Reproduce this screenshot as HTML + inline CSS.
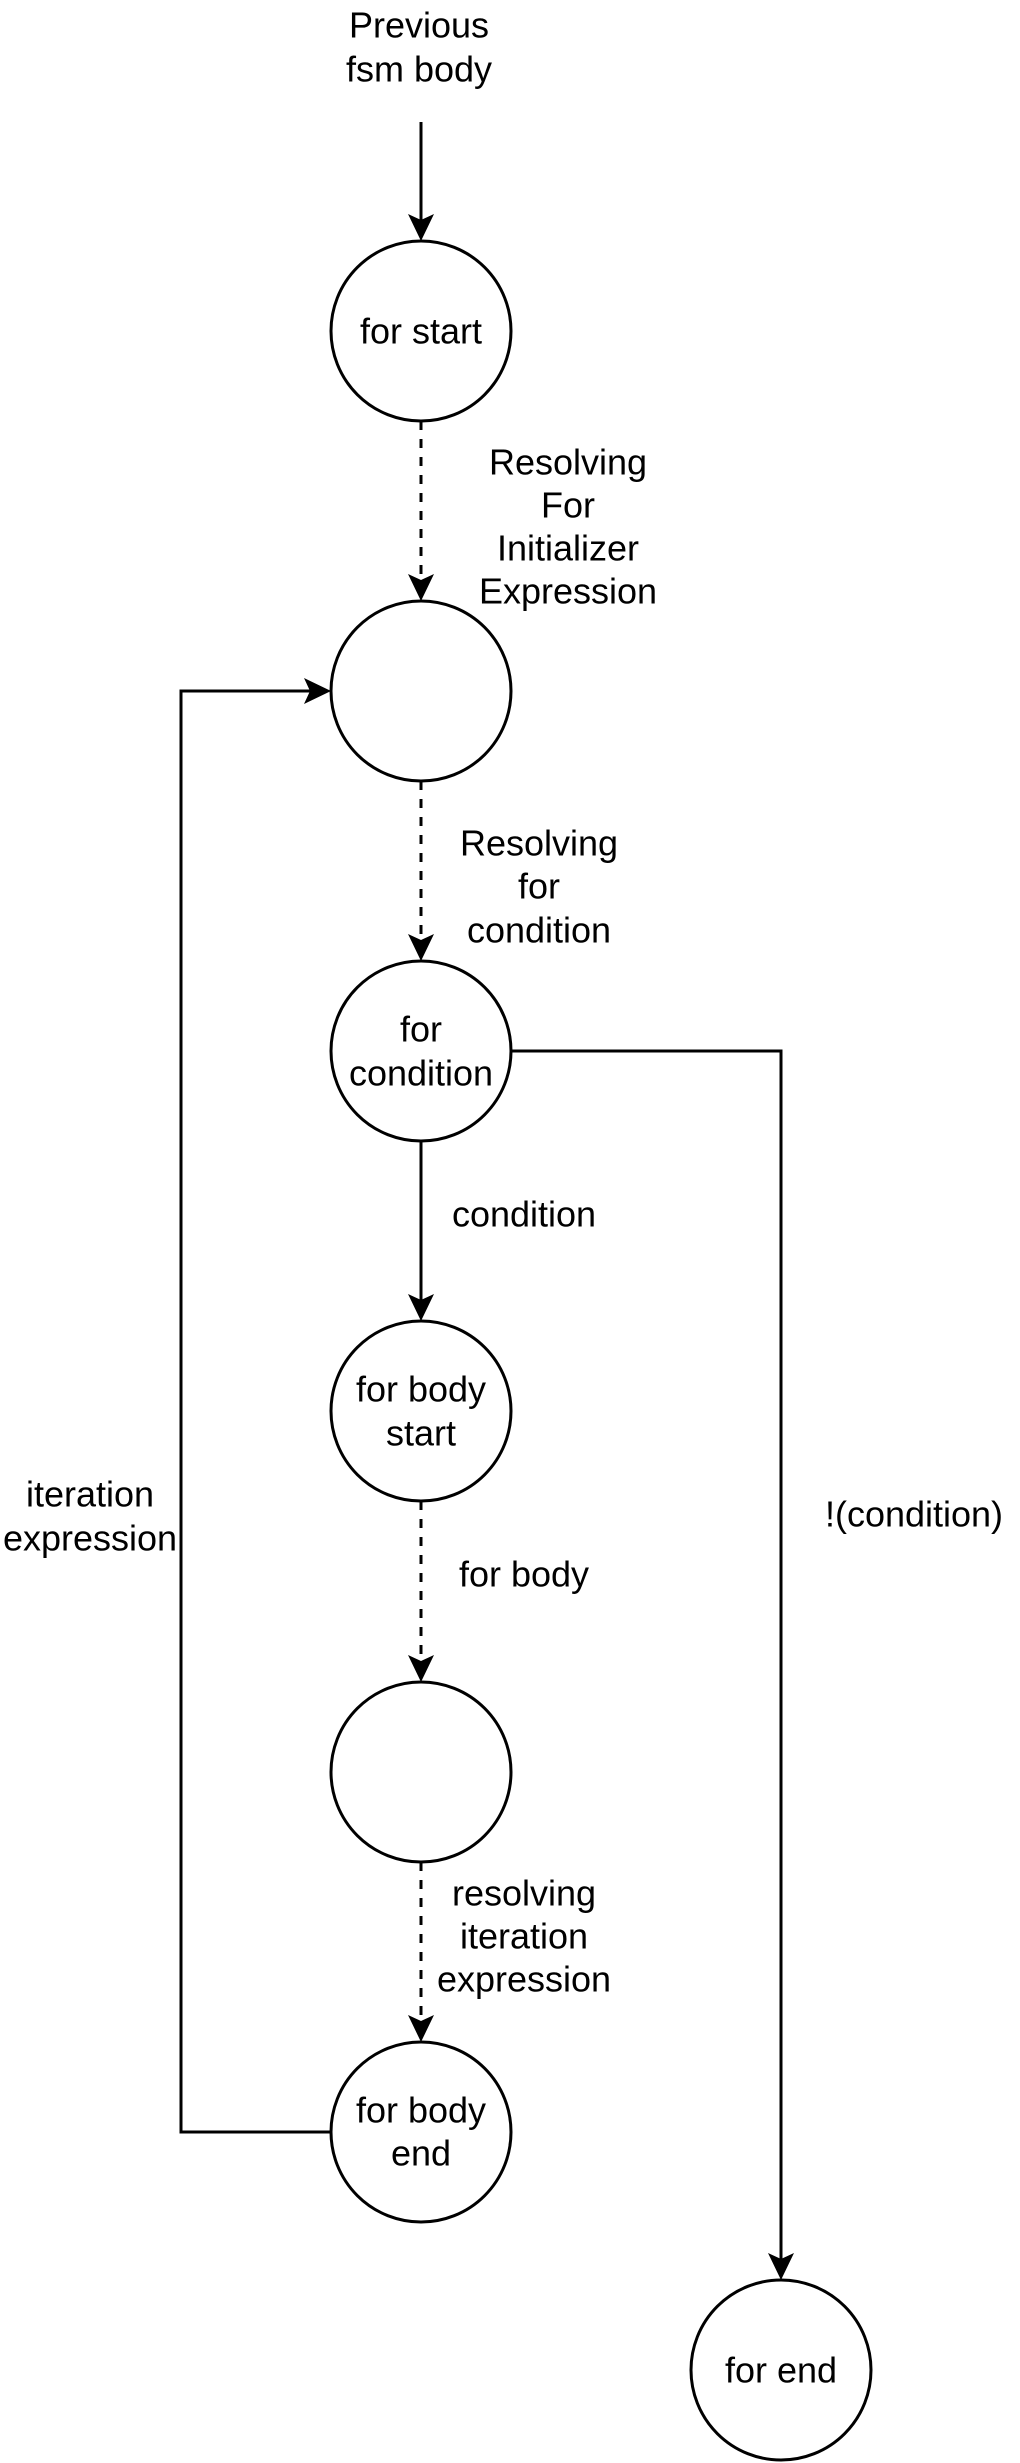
<!DOCTYPE html>
<html><head><meta charset="utf-8"><style>
html,body{margin:0;padding:0;background:#fff;}
svg{display:block;}
text{font-family:"Liberation Sans",Arial,sans-serif;font-size:36px;fill:#000;text-anchor:middle;dominant-baseline:central;}
</style></head><body>
<svg width="1020" height="2463" viewBox="0 0 1020 2463" xmlns="http://www.w3.org/2000/svg">
<g fill="none" stroke="#000" stroke-width="3">
<circle cx="421" cy="331" r="90"/>
<circle cx="421" cy="691" r="90"/>
<circle cx="421" cy="1051" r="90"/>
<circle cx="421" cy="1411" r="90"/>
<circle cx="421" cy="1772" r="90"/>
<circle cx="421" cy="2132" r="90"/>
<circle cx="781" cy="2370" r="90"/>
<line x1="421" y1="122" x2="421" y2="222"/>
<line x1="421" y1="421" x2="421" y2="582" stroke-dasharray="9 9"/>
<line x1="421" y1="781" x2="421" y2="942" stroke-dasharray="9 9"/>
<line x1="421" y1="1141" x2="421" y2="1302"/>
<line x1="421" y1="1501" x2="421" y2="1663" stroke-dasharray="9 9"/>
<line x1="421" y1="1862" x2="421" y2="2023" stroke-dasharray="9 9"/>
<polyline points="331,2132 181,2132 181,691 312,691"/>
<polyline points="511,1051 781,1051 781,2261"/>
</g>
<g fill="#000">
<path d="M421 241 L408 214 L421 220 L434 214 Z"/>
<path d="M421 601 L408 574 L421 580 L434 574 Z"/>
<path d="M421 961 L408 934 L421 940 L434 934 Z"/>
<path d="M421 1321 L408 1294 L421 1300 L434 1294 Z"/>
<path d="M421 1682 L408 1655 L421 1661 L434 1655 Z"/>
<path d="M421 2042 L408 2015 L421 2021 L434 2015 Z"/>
<path d="M781 2280 L768 2253 L781 2259 L794 2253 Z"/>
<path d="M331 691 L304 678 L310 691 L304 704 Z"/>
</g>
<text x="419" y="25">Previous</text>
<text x="419" y="69">fsm body</text>
<text x="421" y="331">for start</text>
<text x="568" y="462">Resolving</text>
<text x="568" y="505">For</text>
<text x="568" y="548">Initializer</text>
<text x="568" y="591">Expression</text>
<text x="539" y="843">Resolving</text>
<text x="539" y="886">for</text>
<text x="539" y="930">condition</text>
<text x="421" y="1029">for</text>
<text x="421" y="1073">condition</text>
<text x="524" y="1214">condition</text>
<text x="421" y="1389">for body</text>
<text x="421" y="1433">start</text>
<text x="90" y="1494">iteration</text>
<text x="90" y="1538">expression</text>
<text x="914" y="1514">!(condition)</text>
<text x="524" y="1574">for body</text>
<text x="524" y="1893">resolving</text>
<text x="524" y="1936">iteration</text>
<text x="524" y="1979">expression</text>
<text x="421" y="2110">for body</text>
<text x="421" y="2153">end</text>
<text x="781" y="2370">for end</text>
</svg>
</body></html>
